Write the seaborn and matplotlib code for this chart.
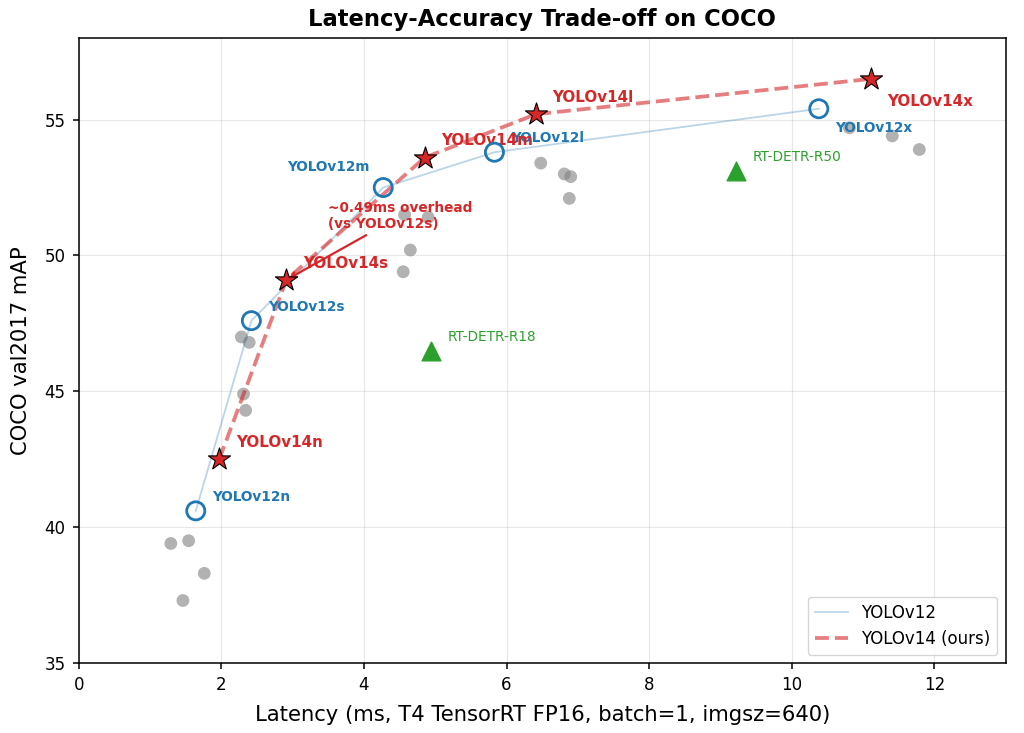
import pandas as pd
import seaborn as sns
import matplotlib.pyplot as plt

# YOLOv12 (baseline)
v12_names = ['YOLOv12n', 'YOLOv12s', 'YOLOv12m', 'YOLOv12l', 'YOLOv12x']
v12_lat = [1.64, 2.42, 4.27, 5.83, 10.38]
v12_map = [40.6, 47.6, 52.5, 53.8, 55.4]

# YOLOv14 (ours)
v14_names = ['YOLOv14n', 'YOLOv14s', 'YOLOv14m', 'YOLOv14l', 'YOLOv14x']
v14_lat = [1.97, 2.91, 4.85, 6.41, 11.11]
v14_map = [42.5, 49.1, 53.6, 55.2, 56.5]

# RT-DETR
detr_names = ['RT-DETR-R18', 'RT-DETR-R50']
detr_lat = [4.94, 9.22]
detr_map = [46.5, 53.1]

# other detectors (grey background points)
other_lat = [1.29, 1.54, 1.76, 1.46, 2.28, 2.39, 2.31, 2.34, 4.57, 4.90, 4.65, 4.55,
             6.48, 6.81, 6.90, 6.88, 10.81, 11.41, 11.79]
other_map = [39.4, 39.5, 38.3, 37.3, 47.0, 46.8, 44.9, 44.3, 51.5, 51.4, 50.2, 49.4,
             53.4, 53.0, 52.9, 52.1, 54.7, 54.4, 53.9]

df12 = pd.DataFrame({'lat': v12_lat, 'map': v12_map, 'name': v12_names})
df14 = pd.DataFrame({'lat': v14_lat, 'map': v14_map, 'name': v14_names})
dfd = pd.DataFrame({'lat': detr_lat, 'map': detr_map, 'name': detr_names})
dfo = pd.DataFrame({'lat': other_lat, 'map': other_map})

fig, ax = plt.subplots(figsize=(10.24, 7.33), dpi=100)
fig.subplots_adjust(left=0.077, right=0.982, top=0.948, bottom=0.0955)

# 背景的灰点
sns.scatterplot(data=dfo, x='lat', y='map', color='gray', alpha=0.6, s=85,
                edgecolor='none', ax=ax, zorder=2)

# 曲线
sns.lineplot(data=df12, x='lat', y='map', sort=False, estimator=None, color='tab:blue',
             alpha=0.3, linewidth=1.3, label='YOLOv12', ax=ax, zorder=3)
sns.lineplot(data=df14, x='lat', y='map', sort=False, estimator=None, color='tab:red',
             alpha=0.6, linewidth=2.7, linestyle='--', label='YOLOv14 (ours)', ax=ax, zorder=3)

# 标记点
ax.scatter(df12['lat'], df12['map'], s=170, facecolors='none', edgecolors='tab:blue',
           linewidths=2, zorder=4)
ax.scatter(df14['lat'], df14['map'], s=280, marker='*', color='tab:red',
           edgecolors='black', linewidths=0.8, zorder=5)
ax.scatter(dfd['lat'], dfd['map'], s=180, marker='^', color='tab:green', zorder=4)

# 文字标签
for _, r in df12.iterrows():
    if r['name'] == 'YOLOv12m':
        off, ha = (-10, 15), 'right'
    elif r['name'] == 'YOLOv12x':
        off, ha = (12, -14), 'left'
    else:
        off, ha = (12, 10), 'left'
    ax.annotate(r['name'], (r['lat'], r['map']), xytext=off, textcoords='offset points',
                ha=ha, va='center', fontsize=9.8, fontweight='bold', color='tab:blue')

for _, r in df14.iterrows():
    off = (12, -16) if r['name'] == 'YOLOv14x' else (12, 12)
    ax.annotate(r['name'], (r['lat'], r['map']), xytext=off, textcoords='offset points',
                ha='left', va='center', fontsize=10.9, fontweight='bold', color='tab:red')

for _, r in dfd.iterrows():
    ax.annotate(r['name'], (r['lat'], r['map']), xytext=(12, 10), textcoords='offset points',
                ha='left', va='center', fontsize=9.8, color='tab:green')

ax.annotate('~0.49ms overhead\n(vs YOLOv12s)', xy=(v14_lat[1], v14_map[1]), xytext=(3.5, 50.9),
            ha='left', va='bottom', fontsize=9.8, fontweight='bold', color='tab:red',
            arrowprops=dict(arrowstyle='->', color='tab:red', lw=1.6))

ax.set_xlim(0, 13)
ax.set_ylim(35, 58)
ax.set_xticks([0, 2, 4, 6, 8, 10, 12])
ax.set_yticks([35, 40, 45, 50, 55])
ax.tick_params(labelsize=12, length=4.5, width=1.1, pad=5)
for sp in ax.spines.values():
    sp.set_linewidth(1.1)
ax.grid(alpha=0.3)
ax.set_xlabel('Latency (ms, T4 TensorRT FP16, batch=1, imgsz=640)', fontsize=15.2, labelpad=8)
ax.set_ylabel('COCO val2017 mAP', fontsize=15.2, labelpad=10)
ax.set_title('Latency-Accuracy Trade-off on COCO', fontsize=16.3, fontweight='bold', pad=9)
ax.legend(loc='lower right', fontsize=12)

plt.savefig('out.png')
